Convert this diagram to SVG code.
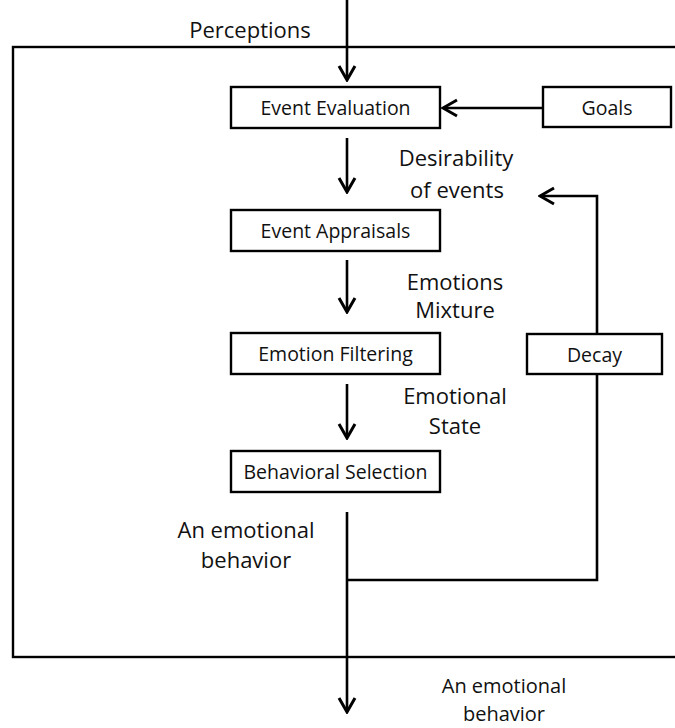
<svg xmlns="http://www.w3.org/2000/svg" width="675" height="728" viewBox="0 0 675 728">
<style>
.box{fill:#fff;stroke:#000;stroke-width:2.4}
.ln{fill:none;stroke:#000;stroke-width:2.6}
.t{font-family:"Open Sans","Liberation Sans",sans-serif;font-size:19.5px;fill:#111;text-anchor:middle}
.l{font-family:"Open Sans","Liberation Sans",sans-serif;font-size:22px;fill:#111;text-anchor:middle}
.b{font-family:"Open Sans","Liberation Sans",sans-serif;font-size:20px;fill:#111;text-anchor:middle}
</style>
<defs>
<marker id="ah" viewBox="0 0 20 20" refX="18" refY="10" markerWidth="20" markerHeight="20" markerUnits="userSpaceOnUse" orient="auto">
<path d="M4,2 L18,10 L4,18" fill="none" stroke="#000" stroke-width="3"/>
</marker>
</defs>
<rect x="13" y="47" width="680" height="610" fill="none" stroke="#000" stroke-width="2.4"/>
<g id="connectors">
<line class="ln" x1="347" y1="0" x2="347" y2="80" marker-end="url(#ah)"/>
<line class="ln" x1="543" y1="108" x2="443" y2="108" marker-end="url(#ah)"/>
<line class="ln" x1="347" y1="138" x2="347" y2="192" marker-end="url(#ah)"/>
<line class="ln" x1="347" y1="260" x2="347" y2="312" marker-end="url(#ah)"/>
<line class="ln" x1="347" y1="384" x2="347" y2="438" marker-end="url(#ah)"/>
<line class="ln" x1="347" y1="512" x2="347" y2="712" marker-end="url(#ah)"/>
<polyline class="ln" points="347,580 597,580 597,374"/>
<polyline class="ln" points="597,334 597,196 540,196" marker-end="url(#ah)"/>
</g>
<g id="event-evaluation"><rect class="box" x="231" y="87" width="209" height="41"/><text class="t" x="335.5" y="115">Event Evaluation</text></g>
<g id="goals"><rect class="box" x="543" y="87" width="128" height="40"/><text class="t" x="607" y="115">Goals</text></g>
<g id="event-appraisals"><rect class="box" x="231" y="210" width="209" height="41"/><text class="t" x="335.5" y="238">Event Appraisals</text></g>
<g id="emotion-filtering"><rect class="box" x="231" y="333" width="209" height="41"/><text class="t" x="335.5" y="361">Emotion Filtering</text></g>
<g id="behavioral-selection"><rect class="box" x="231" y="451" width="209" height="41"/><text class="t" x="335.5" y="479">Behavioral Selection</text></g>
<g id="decay"><rect class="box" x="527" y="334" width="135" height="40"/><text class="t" x="594.5" y="362">Decay</text></g>
<g id="labels">
<text class="l" x="250" y="38">Perceptions</text>
<text class="l" x="456" y="166">Desirability</text>
<text class="l" x="457" y="198">of events</text>
<text class="l" x="455" y="290">Emotions</text>
<text class="l" x="455" y="318">Mixture</text>
<text class="l" x="455" y="404">Emotional</text>
<text class="l" x="455" y="434">State</text>
<text class="l" x="246" y="538">An emotional</text>
<text class="l" x="246" y="568">behavior</text>
<text class="b" x="504" y="693">An emotional</text>
<text class="b" x="504" y="721">behavior</text>
</g>
</svg>
